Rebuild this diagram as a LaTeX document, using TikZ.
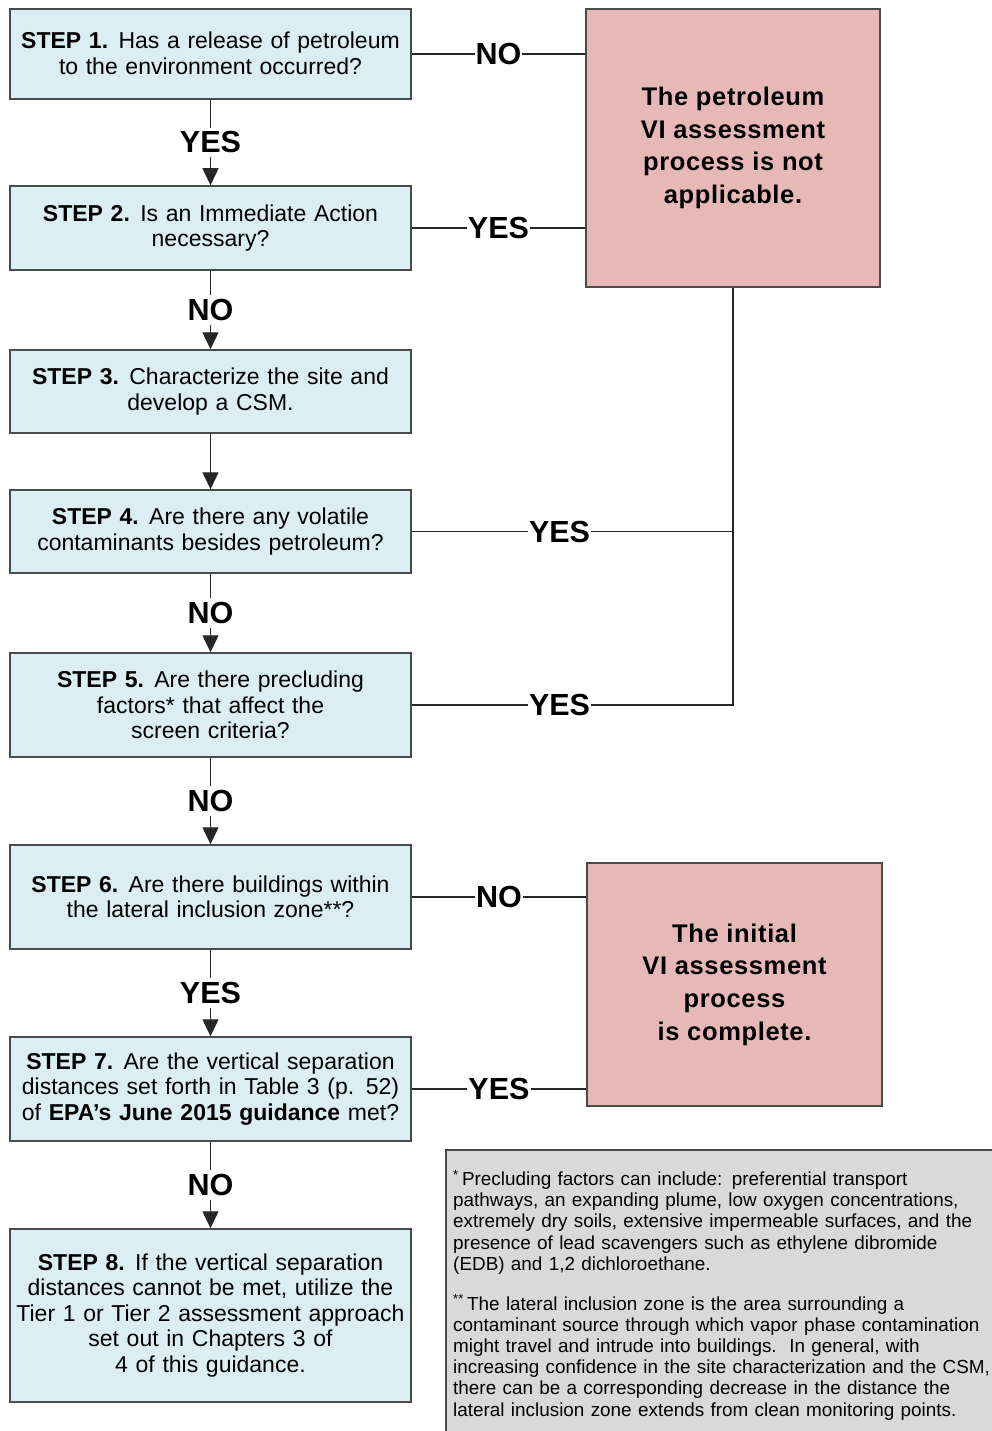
\documentclass[tikz,border=0pt]{standalone}
\usepackage{fontspec}
\setmainfont{Liberation Sans}
\usetikzlibrary{arrows.meta}
\definecolor{boxblue}{HTML}{DBEEF4}
\definecolor{boxpink}{HTML}{E6B9B8}
\definecolor{notegray}{HTML}{D9D9D9}
\definecolor{edgegray}{HTML}{4A4A4A}
\begin{document}
\begin{tikzpicture}[x=1pt,y=-1pt,
  stepbox/.style={draw=edgegray, line width=1.5pt, fill=boxblue, minimum width=401pt,
    text width=395pt, align=center, inner sep=0pt, font=\fontsize{23}{25.5}\selectfont},
  endbox/.style={draw=edgegray, line width=1.5pt, fill=boxpink, align=center, inner sep=0pt,
    font=\fontsize{25.5}{32.7}\selectfont\bfseries\addfontfeature{LetterSpace=2.5}},
  lbl/.style={fill=white, inner xsep=1pt, inner ysep=4pt, font=\fontsize{30.5}{30.5}\selectfont\bfseries},
  conn/.style={draw=black!85, line width=1.4pt},
  arr/.style={conn, -{Triangle[width=16pt,length=17pt]}},
  notebox/.style={draw=edgegray, line width=1.5pt, fill=notegray}]
\path[use as bounding box] (0,0) rectangle (992,1431);

% step boxes
\node[stepbox, minimum height=90pt] (s1) at (210.5,54)
  {\textbf{STEP 1.}\hspace{0.45em}Has a release of petroleum\\to the environment occurred?\vspace{1.5pt}};
\node[stepbox, minimum height=84pt] (s2) at (210.5,228)
  {\textbf{STEP 2.}\hspace{0.45em}Is an Immediate Action\\necessary?};
\node[stepbox, minimum height=83pt] (s3) at (210.5,391.5)
  {\textbf{STEP 3.}\hspace{0.45em}Characterize the site and\\develop a CSM.};
\node[stepbox, minimum height=83pt] (s4) at (210.5,531.5)
  {\textbf{STEP 4.}\hspace{0.45em}Are there any volatile\\contaminants besides petroleum?};
\node[stepbox, minimum height=104pt] (s5) at (210.5,705)
  {\textbf{STEP 5.}\hspace{0.45em}Are there precluding\\factors* that affect the\\screen criteria?};
\node[stepbox, minimum height=104pt] (s6) at (210.5,897)
  {\textbf{STEP 6.}\hspace{0.45em}Are there buildings within\\the lateral inclusion zone**?};
\node[stepbox, minimum height=104pt] (s7) at (210.5,1089)
  {\textbf{STEP 7.}\hspace{0.45em}Are the vertical separation\\distances set forth in Table 3 (p. 52)\\of \textbf{EPA’s June 2015 guidance} met?};
\node[stepbox, minimum height=173pt] (s8) at (210.5,1315.5)
  {\textbf{STEP 8.}\hspace{0.45em}If the vertical separation\\distances cannot be met, utilize the\\Tier 1 or Tier 2 assessment approach\\set out in Chapters 3 of\\4 of this guidance.};

% end boxes
\node[endbox, minimum width=294pt, minimum height=278pt] (p1) at (733,148)
  {The petroleum\\VI assessment\\process is not\\applicable.};
\node[endbox, minimum width=295pt, minimum height=243pt] (p2) at (734.5,984.5)
  {The initial\\VI assessment\\process\\is complete.};

% vertical connectors
\draw[arr] (s1.south) -- node[lbl] {YES} (s2.north);
\draw[arr] (s2.south) -- node[lbl] {NO} (s3.north);
\draw[arr] (s3.south) -- (s4.north);
\draw[arr] (s4.south) -- node[lbl] {NO} (s5.north);
\draw[arr] (s5.south) -- node[lbl] {NO} (s6.north);
\draw[arr] (s6.south) -- node[lbl] {YES} (s7.north);
\draw[arr] (s7.south) -- node[lbl] {NO} (s8.north);

% horizontal connectors
\draw[conn] (s1.east) -- node[lbl] {NO} (s1.east -| p1.west);
\draw[conn] (s2.east) -- node[lbl] {YES} (s2.east -| p1.west);
\draw[conn] (p1.south) |- (s5.east);
\draw[conn] (s4.east) -- node[lbl, pos=0.46] {YES} (s4.east -| p1.south);
\draw[conn] (s5.east) -- node[lbl, pos=0.46] {YES} (s5.east -| p1.south);
\draw[conn] (s6.east) -- node[lbl] {NO} (s6.east -| p2.west);
\draw[conn] (s7.east) -- node[lbl] {YES} (s7.east -| p2.west);

% footnote box
\begin{scope}
  \clip (0,0) rectangle (992,1431);
  \draw[notebox] (446,1150) rectangle (1000,1440);
  \node[anchor=north west, align=left, text width=560pt, inner sep=0pt,
        font=\fontsize{18.9}{21.2}\selectfont] (fn) at (453,1170)
  {\textsuperscript{*}\,Precluding factors can include: preferential transport\\
   pathways, an expanding plume, low oxygen concentrations,\\
   extremely dry soils, extensive impermeable surfaces, and the\\
   presence of lead scavengers such as ethylene dibromide\\
   (EDB) and 1,2 dichloroethane.\\[18.5pt]
   \textsuperscript{**}\,The lateral inclusion zone is the area surrounding a\\
   contaminant source through which vapor phase contamination\\
   might travel and intrude into buildings.\ \ In general, with\\
   increasing confidence in the site characterization and the CSM,\\
   there can be a corresponding decrease in the distance the\\
   lateral inclusion zone extends from clean monitoring points.};
\end{scope}
\end{tikzpicture}
\end{document}
